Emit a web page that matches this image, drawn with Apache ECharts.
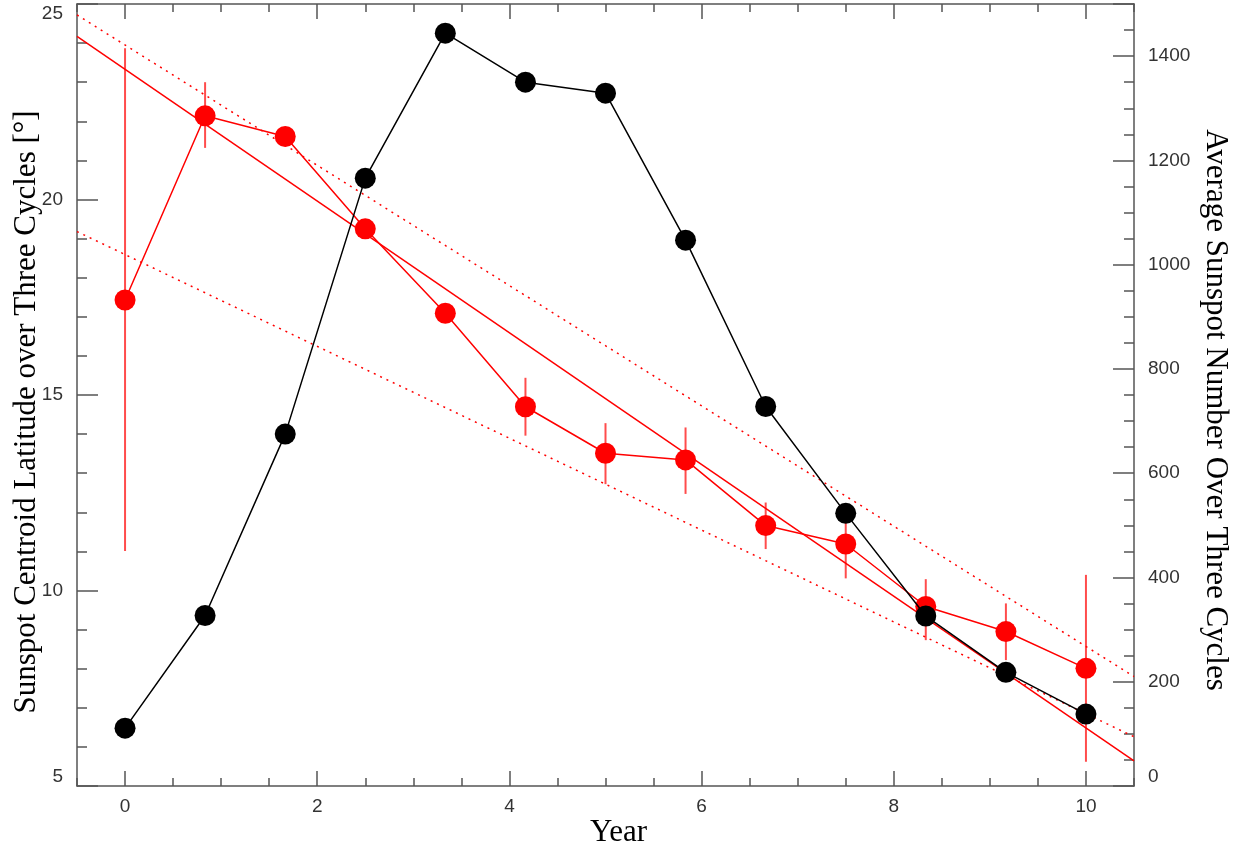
<!DOCTYPE html>
<html>
<head>
<meta charset="utf-8">
<script src="https://cdn.jsdelivr.net/npm/echarts@6/dist/echarts.min.js"></script>
<style>
html,body{margin:0;padding:0;background:#fff;}
#chart{width:1239px;height:850px;}
</style>
</head>
<body>
<div id="chart"></div>
<script>
// ---- data ----
const years = [0, 0.833, 1.667, 2.5, 3.333, 4.167, 5, 5.833, 6.667, 7.5, 8.333, 9.167, 10];
const latitude = [17.43, 22.14, 21.61, 19.25, 17.09, 14.70, 13.51, 13.34, 11.66, 11.19, 9.59, 8.95, 8.01];
const latErrHigh = [23.87, 23.00, 21.85, 19.45, 17.30, 15.44, 14.28, 14.17, 12.25, 12.07, 10.29, 9.67, 10.40];
const latErrLow  = [11.01, 21.32, 21.37, 19.05, 16.90, 13.96, 12.72, 12.47, 11.06, 10.31, 8.73, 8.22, 5.62];
const sunspots = [111, 327, 675, 1166, 1444, 1350, 1329, 1047, 728, 523, 326, 218, 138];
const fitX = [-0.5, 10.5];
const fitMid = [24.17, 5.64];
const fitUpper = [24.72, 7.80];
const fitLower = [19.18, 6.26];
const xLabelTicks = [0, 2, 4, 6, 8, 10];

const pairs = (xs, ys) => xs.map((x, i) => [x, ys[i]]);

const axisColor = '#555';
const labelStyle = { color: '#333', fontFamily: 'Liberation Sans, Arial, sans-serif', fontSize: 19, formatter: v => String(v) };
const serif = 'Liberation Serif, Times New Roman, serif';

const chart = echarts.init(document.getElementById('chart'), null, { renderer: 'canvas' });

const xBase = {
  type: 'value', min: -0.5, max: 10.5, interval: 0.5,
  splitLine: { show: false }
};

const option = {
  animation: false,
  backgroundColor: '#fff',
  grid: { left: 77, right: 105, top: 4, bottom: 64, containLabel: false, outerBoundsMode: 'none' },
  xAxis: [
    Object.assign({}, xBase, {
      position: 'bottom',
      axisLine: { show: true, onZero: false, lineStyle: { color: axisColor, width: 1.5 } },
      axisTick: { show: true, inside: true, length: 8, lineStyle: { color: axisColor, width: 1.5 } },
      axisLabel: { show: false }
    }),
    Object.assign({}, xBase, {
      position: 'bottom',
      axisLine: { show: false, onZero: false },
      axisTick: { show: true, inside: true, length: 15, customValues: xLabelTicks, lineStyle: { color: axisColor, width: 1.5 } },
      axisLabel: Object.assign({ show: true, margin: 11, customValues: xLabelTicks }, labelStyle),
      name: 'Year', nameLocation: 'middle', nameGap: 31, nameMoveOverlap: false,
      nameTextStyle: { fontFamily: serif, fontSize: 31, color: '#000', padding: [0, 0, 0, 26] }
    }),
    Object.assign({}, xBase, {
      position: 'top',
      axisLine: { show: true, onZero: false, lineStyle: { color: axisColor, width: 1.5 } },
      axisTick: { show: true, inside: true, length: 8, lineStyle: { color: axisColor, width: 1.5 } },
      axisLabel: { show: false }
    }),
    Object.assign({}, xBase, {
      position: 'top',
      axisLine: { show: false, onZero: false },
      axisTick: { show: true, inside: true, length: 15, customValues: xLabelTicks, lineStyle: { color: axisColor, width: 1.5 } },
      axisLabel: { show: false }
    })
  ],
  yAxis: [
    {
      type: 'value', min: 5, max: 25, interval: 5, position: 'left',
      splitLine: { show: false },
      axisLine: { show: true, onZero: false, lineStyle: { color: axisColor, width: 1.5 } },
      axisTick: { show: true, inside: true, length: 21, lineStyle: { color: axisColor, width: 1.5 } },
      minorTick: { show: true, splitNumber: 5, length: 10, lineStyle: { color: axisColor, width: 1.5 } },
      axisLabel: Object.assign({ margin: 14, verticalAlignMinLabel: 'bottom', verticalAlignMaxLabel: 'top' }, labelStyle),
      name: 'Sunspot Centroid Latitude over Three Cycles [°]', nameLocation: 'middle', nameGap: 35, nameMoveOverlap: false,
      nameTextStyle: { fontFamily: serif, fontSize: 31, color: '#000', padding: [0, 34, 0, 0] }
    },
    {
      type: 'value', min: 0, max: 1500, interval: 200, position: 'right',
      splitLine: { show: false },
      axisLine: { show: true, onZero: false, lineStyle: { color: axisColor, width: 1.5 } },
      axisTick: { show: true, inside: true, length: 21, lineStyle: { color: axisColor, width: 1.5 } },
      minorTick: { show: true, splitNumber: 4, length: 10, lineStyle: { color: axisColor, width: 1.5 } },
      axisLabel: Object.assign({ margin: 14, showMaxLabel: false, verticalAlignMinLabel: 'bottom' }, labelStyle),
      name: 'Average Sunspot Number Over Three Cycles', nameLocation: 'middle', nameGap: 66, nameRotate: -90, nameMoveOverlap: false,
      nameTextStyle: { fontFamily: serif, fontSize: 31, color: '#000', padding: [0, 0, 0, 30] }
    }
  ],
  series: [
    {
      type: 'line', name: 'fitUpper', xAxisIndex: 0, yAxisIndex: 0, symbol: 'none', silent: true,
      data: pairs(fitX, fitUpper), lineStyle: { color: '#ff0000', width: 1.5, type: [2, 5] }, z: 1
    },
    {
      type: 'line', name: 'fitLower', xAxisIndex: 0, yAxisIndex: 0, symbol: 'none', silent: true,
      data: pairs(fitX, fitLower), lineStyle: { color: '#ff0000', width: 1.5, type: [2, 5] }, z: 1
    },
    {
      type: 'line', name: 'fit', xAxisIndex: 0, yAxisIndex: 0, symbol: 'none', silent: true,
      data: pairs(fitX, fitMid), lineStyle: { color: '#ff0000', width: 1.5 }, z: 1
    },
    {
      type: 'custom', name: 'errors', xAxisIndex: 0, yAxisIndex: 0, z: 2,
      data: years.map((x, i) => [x, latErrLow[i], latErrHigh[i]]),
      renderItem: function (params, api) {
        const p0 = api.coord([api.value(0), api.value(1)]);
        const p1 = api.coord([api.value(0), api.value(2)]);
        return {
          type: 'line',
          shape: { x1: p0[0], y1: p0[1], x2: p1[0], y2: p1[1] },
          style: { stroke: 'rgba(255,0,0,0.7)', lineWidth: 2 }
        };
      }
    },
    {
      type: 'line', name: 'latitude', xAxisIndex: 0, yAxisIndex: 0, z: 3,
      data: pairs(years, latitude), symbol: 'circle', symbolSize: 21,
      itemStyle: { color: '#ff0000' }, lineStyle: { color: '#ff0000', width: 1.5 }
    },
    {
      type: 'line', name: 'sunspots', xAxisIndex: 0, yAxisIndex: 1, z: 4,
      data: pairs(years, sunspots), symbol: 'circle', symbolSize: 21,
      itemStyle: { color: '#000' }, lineStyle: { color: '#000', width: 1.5 }
    }
  ]
};
chart.setOption(option);
</script>
</body>
</html>
